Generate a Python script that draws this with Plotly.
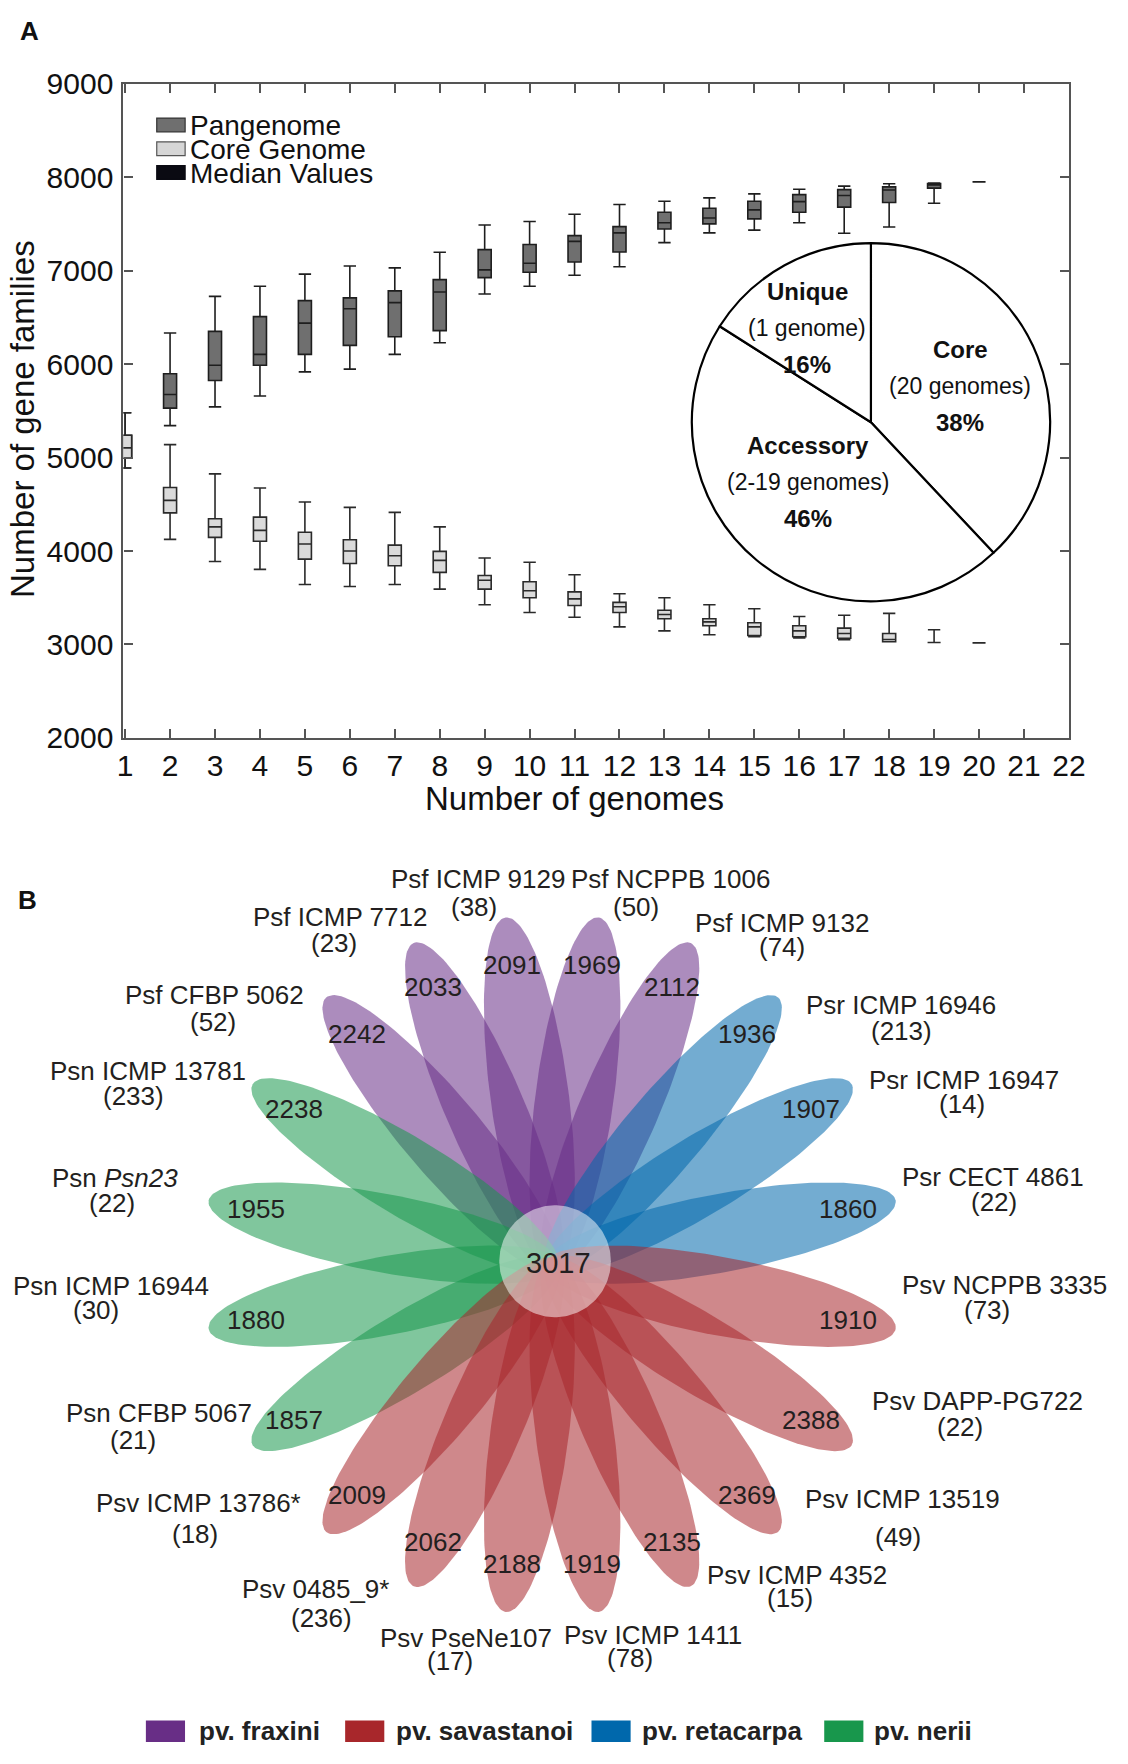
import numpy as np
import plotly.graph_objects as go

W, H = 1128, 1764
FONT = "Liberation Sans, Arial, Helvetica, sans-serif"
TXT = "#231f20"

# ---------------- Panel A data ----------------
genomes = list(range(1, 21))
pan_low = [4888, 5342, 5542, 5658, 5917, 5946, 6104, 6229, 6750, 6833, 6950, 7042, 7300, 7404, 7433, 7513, 7400, 7467, 7721, 7950]
pan_q1 = [4992, 5529, 5825, 5988, 6104, 6200, 6292, 6358, 6925, 6983, 7092, 7200, 7446, 7500, 7554, 7625, 7679, 7729, 7883, 7950]
pan_med = [5104, 5675, 5988, 6104, 6438, 6592, 6658, 6771, 7008, 7079, 7313, 7404, 7513, 7563, 7650, 7738, 7804, 7863, 7917, 7950]
pan_q3 = [5238, 5896, 6350, 6508, 6679, 6708, 6783, 6904, 7225, 7279, 7375, 7471, 7625, 7667, 7742, 7813, 7867, 7896, 7933, 7950]
pan_high = [5479, 6333, 6725, 6833, 6963, 7050, 7029, 7196, 7488, 7525, 7604, 7708, 7742, 7779, 7821, 7871, 7904, 7929, 7938, 7950]

core_low = [4888, 4125, 3888, 3804, 3642, 3621, 3642, 3592, 3425, 3342, 3292, 3188, 3146, 3104, 3083, 3071, 3050, 3029, 3021, 3017]
core_q1 = [4992, 4408, 4146, 4104, 3913, 3867, 3842, 3771, 3592, 3500, 3417, 3342, 3275, 3200, 3096, 3083, 3067, 3029, 3021, 3017]
core_med = [5104, 4542, 4258, 4221, 4075, 4000, 3950, 3900, 3688, 3575, 3488, 3404, 3321, 3242, 3188, 3146, 3117, 3054, 3021, 3017]
core_q3 = [5238, 4679, 4346, 4363, 4200, 4121, 4063, 3996, 3738, 3671, 3563, 3450, 3367, 3275, 3233, 3200, 3175, 3117, 3021, 3017]
core_high = [5479, 5138, 4825, 4675, 4525, 4467, 4413, 4258, 3925, 3879, 3746, 3542, 3500, 3425, 3383, 3300, 3313, 3333, 3158, 3017]

x_ticks = list(range(1, 23))
y_ticks = list(range(2000, 9001, 1000))

pie_labels = ["Core", "Accessory", "Unique"]
pie_sub = ["(20 genomes)", "(2-19 genomes)", "(1 genome)"]
pie_values = [38, 46, 16]

# ---------------- Panel B data ----------------
strains = ["Psf ICMP 9129", "Psf NCPPB 1006", "Psf ICMP 9132", "Psr ICMP 16946", "Psr ICMP 16947",
           "Psr CECT 4861", "Psv NCPPB 3335", "Psv DAPP-PG722", "Psv ICMP 13519", "Psv ICMP 4352",
           "Psv ICMP 1411", "Psv PseNe107", "Psv 0485_9*", "Psv ICMP 13786*", "Psn CFBP 5067",
           "Psn ICMP 16944", "Psn <i>Psn23</i>", "Psn ICMP 13781", "Psf CFBP 5062", "Psf ICMP 7712"]
shared_genes = [2091, 1969, 2112, 1936, 1907, 1860, 1910, 2388, 2369, 2135,
                1919, 2188, 2062, 2009, 1857, 1880, 1955, 2238, 2242, 2033]
unique_genes = [38, 50, 74, 213, 14, 22, 73, 22, 49, 15,
                78, 17, 236, 18, 21, 30, 22, 233, 52, 23]
pathovar = ["fraxini", "fraxini", "fraxini", "retacarpa", "retacarpa", "retacarpa",
            "savastanoi", "savastanoi", "savastanoi", "savastanoi", "savastanoi",
            "savastanoi", "savastanoi", "savastanoi", "nerii", "nerii", "nerii", "nerii",
            "fraxini", "fraxini"]
core_genes = 3017
pv_order = ["fraxini", "savastanoi", "retacarpa", "nerii"]

# ---------------- styles / layout (pixel positions) ----------------
pv_rgb = {"fraxini": (104, 46, 134), "savastanoi": (168, 39, 43),
          "retacarpa": (0, 104, 172), "nerii": (24, 151, 76)}
draw_order = ["fraxini", "retacarpa", "nerii", "savastanoi"]

name_xy = [(480.8, 879.4), (677.9, 879.4), (791.6, 924.4), (913.2, 1007.8), (977.4, 1084.3),
           (1007, 1183.3), (1019, 1292.7), (992, 1411.7), (915, 1511.7), (807, 1588.3),
           (660, 1650), (468.7, 1653.3), (315.3, 1603.4), (196, 1515.6), (155, 1423.3),
           (106.7, 1294), (110, 1184), (144.3, 1075), (211.7, 997.6), (340, 917.7)]
count_xy = [(477.4, 907.6), (643, 907.6), (791.6, 949.2), (914.3, 1034.8), (976, 1108.3),
            (1008.3, 1208.3), (1001.7, 1318.3), (974, 1438.3), (910, 1550), (800, 1612.3),
            (636.7, 1673.3), (452.7, 1676.7), (321, 1632.7), (192.5, 1547.1), (128.3, 1451),
            (90.7, 1318.7), (107.3, 1209.3), (129, 1101), (210.6, 1024.7), (334.4, 944.7)]

CX, CY = 557.0, 1272.5      # flower centre (px)
R_C, A_AX, B_AX = 175.0, 182.0, 40.0
R_NUM = 308.0
K_STRETCH = 1.18


def px(x):
    return x / W


def py(y):
    return 1 - y / H


def ann(x, y, text, size, ref="paper", color="#111", xanchor="center", angle=0):
    if ref == "paper":
        return dict(x=px(x), y=py(y), xref="paper", yref="paper", text=text, showarrow=False,
                    xanchor=xanchor, yanchor="middle", textangle=angle,
                    font=dict(size=size, color=color, family=FONT))
    return dict(x=x, y=y, xref="x2", yref="y2", text=text, showarrow=False,
                xanchor=xanchor, yanchor="middle", textangle=angle,
                font=dict(size=size, color=color, family=FONT))


fig = go.Figure()

# ---------------- Panel A boxes ----------------
box_common = dict(boxpoints=False, width=0.29, whiskerwidth=0.95, hoverinfo="skip",
                  xaxis="x", yaxis="y", showlegend=False)
fig.add_trace(go.Box(x=genomes, q1=pan_q1, median=pan_med, q3=pan_q3,
                     lowerfence=pan_low, upperfence=pan_high,
                     fillcolor="#6f6f6f", line=dict(color="#1e1e1e", width=1.6),
                     name="Pangenome", **box_common))
fig.add_trace(go.Box(x=genomes, q1=core_q1, median=core_med, q3=core_q3,
                     lowerfence=core_low, upperfence=core_high,
                     fillcolor="#dadada", line=dict(color="#2a2a2a", width=1.6),
                     name="Core Genome", **box_common))

# pie inset
pcx, pcy, pr = 882.7, 414.0, 183.0
fig.add_trace(go.Pie(labels=pie_labels, values=pie_values, sort=False, direction="clockwise",
                     rotation=0, textinfo="none", hoverinfo="skip", showlegend=False,
                     marker=dict(colors=["white"] * 3, line=dict(color="black", width=2.2)),
                     domain=dict(x=[px(pcx - pr), px(pcx + pr)], y=[py(pcy + pr), py(pcy - pr)])))

annotations = []
pie_text_pos = {"Core": (974, 340), "Accessory": (818.6, 438), "Unique": (817.5, 280.4)}
for lab, sub, val in zip(pie_labels, pie_sub, pie_values):
    tx, ty = pie_text_pos[lab]
    for k, (txt, bold) in enumerate([(lab, True), (sub, False), (f"{val}%", True)]):
        annotations.append(ann(tx, ty + k * 37.2, f"<b>{txt}</b>" if bold else txt,
                               24 if bold else 23))

# legend of panel A
leg_items = [("Pangenome", "#6f6f6f", "#333"), ("Core Genome", "#d6d6d6", "#555"),
             ("Median Values", "#0a0a12", "#0a0a12")]
shapes = []
for i, (lab, fc, lc) in enumerate(leg_items):
    yc = 111 + i * 24.2
    shapes.append(dict(type="rect", xref="paper", yref="paper", x0=px(153), x1=px(182),
                       y0=py(yc + 7), y1=py(yc - 7), fillcolor=fc, line=dict(color=lc, width=1.2)))
    annotations.append(ann(185, yc + 1, lab, 28, xanchor="left"))

# axis titles and panel labels
annotations.append(ann(580, 797, "Number of genomes", 33))
annotations.append(ann(16, 411, "Number of gene families", 33, angle=-90))
annotations.append(ann(23, 15, "<b>A</b>", 26))
annotations.append(ann(21, 901, "<b>B</b>", 26))

# ---------------- Panel B flower ----------------
t = np.linspace(0, 2 * np.pi, 160)
petal_dirs = []
for i in range(len(strains)):
    th = np.deg2rad(99 - 18 * i)
    petal_dirs.append(np.arctan2(K_STRETCH * np.sin(th), np.cos(th)))

for pv in draw_order:
    r, g, b = pv_rgb[pv]
    for i, s in enumerate(strains):
        if pathovar[i] != pv:
            continue
        phi = petal_dirs[i]
        ecx = CX + R_C * np.cos(phi)
        ecy = CY - R_C * np.sin(phi)
        xs = ecx + A_AX * np.cos(t) * np.cos(phi) - B_AX * np.sin(t) * np.sin(phi)
        ys = ecy - (A_AX * np.cos(t) * np.sin(phi) + B_AX * np.sin(t) * np.cos(phi))
        fig.add_trace(go.Scatter(x=xs, y=ys, mode="lines", fill="toself",
                                 fillcolor=f"rgba({r},{g},{b},0.55)", line=dict(width=0),
                                 hoverinfo="skip", showlegend=False, xaxis="x2", yaxis="y2"))

# centre circle
fig.add_trace(go.Scatter(x=560 + 57 * np.cos(t), y=1269 + 57 * np.sin(t), mode="lines",
                         fill="toself", fillcolor="rgba(255,255,255,0.5)", line=dict(width=0),
                         hoverinfo="skip", showlegend=False, xaxis="x2", yaxis="y2"))
annotations.append(ann(563, 1271, str(core_genes), 29, ref="x2", color=TXT))

for i, s in enumerate(strains):
    phi = petal_dirs[i]
    annotations.append(ann(CX + R_NUM * np.cos(phi), CY - R_NUM * np.sin(phi),
                           str(shared_genes[i]), 26, ref="x2", color=TXT))
    nx, ny = name_xy[i]
    annotations.append(ann(nx, ny, s, 26, ref="x2", color=TXT))
    cx_, cy_ = count_xy[i]
    annotations.append(ann(cx_, cy_, f"({unique_genes[i]})", 26, ref="x2", color=TXT))

# legend B
leg_b_x = [(141.9, 193.7), (345.5, 395.5), (597.2, 646.5), (835.0, 884.0)]
for pv, (rx, tx) in zip(pv_order, leg_b_x):
    r, g, b = pv_rgb[pv]
    shapes.append(dict(type="rect", xref="x2", yref="y2", x0=rx, x1=rx + 40, y0=1737, y1=1759,
                       fillcolor=f"rgb({r},{g},{b})", line=dict(width=0)))
    annotations.append(ann(tx, 1747.5, f"<b>pv. {pv}</b>", 26, ref="x2", color="#222",
                           xanchor="left"))

axis_line = dict(showline=True, linecolor="#555", linewidth=2.2, mirror="ticks", ticks="inside",
                 ticklen=9, tickwidth=1.6, tickcolor="#555", showgrid=False, zeroline=False,
                 tickfont=dict(size=30, color="#111", family=FONT))

Y2_TOP = 829.08
fig.update_layout(
    width=W, height=H, margin=dict(l=0, r=0, t=0, b=0),
    paper_bgcolor="white", plot_bgcolor="white", showlegend=False, boxmode="overlay",
    font=dict(family=FONT, color="#111"),
    xaxis=dict(domain=[px(119), px(1085)], range=[0.963, 22.0], tickvals=x_ticks,
               anchor="y", ticklabelstandoff=0, **axis_line),
    yaxis=dict(domain=[py(735.7), py(69)], range=[2000, 9000], tickvals=y_ticks,
               anchor="x", ticklabelstandoff=2, **axis_line),
    xaxis2=dict(domain=[0, 1], range=[0, W], visible=False, anchor="y2"),
    yaxis2=dict(domain=[0, 1 - Y2_TOP / H], range=[H, Y2_TOP], visible=False, anchor="x2"),
    annotations=annotations, shapes=shapes,
)

fig.write_html("out.html", config={"displayModeBar": False},
               post_script="document.body.style.margin='0';")
